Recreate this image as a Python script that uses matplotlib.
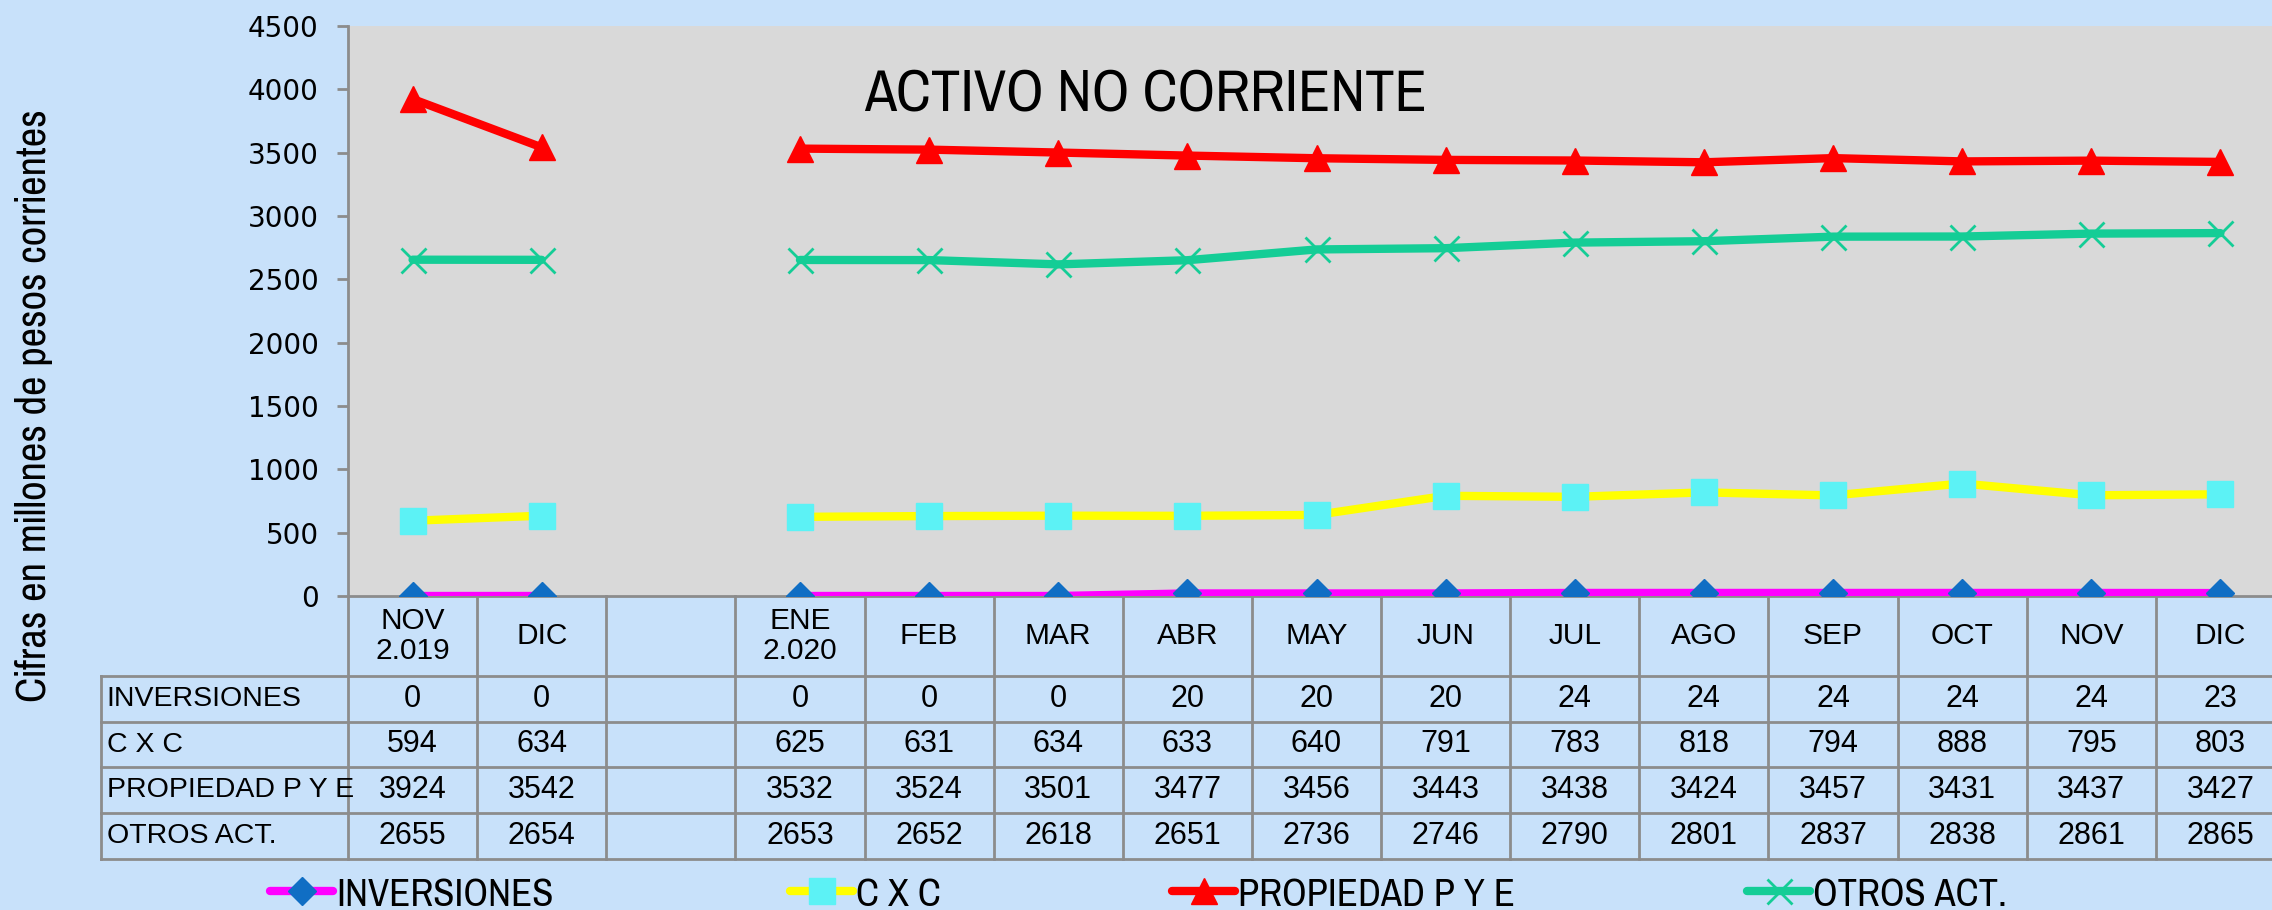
import matplotlib
matplotlib.use('Agg')
import matplotlib.pyplot as plt
import matplotlib.transforms as mtransforms
from matplotlib import font_manager
from matplotlib.lines import Line2D
import numpy as np

# datos (millones de pesos corrientes)
meses = ['NOV\n2.019', 'DIC', '', 'ENE\n2.020', 'FEB', 'MAR', 'ABR', 'MAY',
         'JUN', 'JUL', 'AGO', 'SEP', 'OCT', 'NOV', 'DIC']
nan = np.nan
inversiones = [0, 0, nan, 0, 0, 0, 20, 20, 20, 24, 24, 24, 24, 24, 23]
cxc = [594, 634, nan, 625, 631, 634, 633, 640, 791, 783, 818, 794, 888, 795, 803]
propiedad = [3924, 3542, nan, 3532, 3524, 3501, 3477, 3456, 3443, 3438, 3424, 3457, 3431, 3437, 3427]
otros = [2655, 2654, nan, 2653, 2652, 2618, 2651, 2736, 2746, 2790, 2801, 2837, 2838, 2861, 2865]
nombres = ['INVERSIONES', 'C X C', 'PROPIEDAD P Y E', 'OTROS ACT.']
yticks = [0, 500, 1000, 1500, 2000, 2500, 3000, 3500, 4000, 4500]

# fuentes: Arial -> Liberation Sans, Arial Narrow -> lo que haya
disponibles = {f.name for f in font_manager.fontManager.ttflist}


def elegir(cands):
    for c in cands:
        if c in disponibles:
            return c
    return 'DejaVu Sans'


arial = [elegir(['Liberation Sans', 'Arimo']), 'DejaVu Sans']
narrow = [elegir(['Liberation Sans Narrow', 'Arial Narrow', 'Pragati Narrow', 'Archivo Narrow',
                  'PT Sans Narrow', 'Roboto Condensed', 'IBM Plex Sans Condensed']), 'DejaVu Sans']

# estilos
fondo = '#C8E1FA'
gris = '#D9D9D9'
linea_tabla = '#8C8C8C'
estilos = [
    dict(color='#FF00FF', marker='D', ms=14.5, mfc='#106EC4', mec='#106EC4'),
    dict(color='#FFFF00', marker='s', ms=19, mfc='#5CF2F5', mec='#5CF2F5'),
    dict(color='#FF0000', marker='^', ms=18.5, mfc='#FF0000', mec='#FF0000'),
    dict(color='#14CD96', marker='x', ms=18, mfc='#14CD96', mec='#14CD96', mew=2),
]

W, H = 2272, 910
fig = plt.figure(figsize=(W / 100, H / 100), dpi=100, facecolor=fondo)
ax = fig.add_axes([348 / W, (H - 596) / H, (2285 - 348) / W, (596 - 26) / H])
ax.set_facecolor(gris)

x = np.arange(len(meses))
for serie, est in zip([inversiones, cxc, propiedad, otros], estilos):
    ax.plot(x, serie, lw=6, solid_capstyle='round', zorder=3, **est)

ax.set_xlim(-0.5, len(meses) - 0.5)
ax.set_ylim(0, 4500)
ax.set_yticks(yticks)
ax.set_xticks([])
ax.tick_params(axis='y', length=8, width=2, color=linea_tabla, pad=13, labelsize=20)
for s in ['top', 'right']:
    ax.spines[s].set_visible(False)
for s in ['left', 'bottom']:
    ax.spines[s].set_color(linea_tabla)
    ax.spines[s].set_linewidth(2)


# tabla de datos debajo del eje
def ay(p):
    return (596 - p) / 570.0


trans = mtransforms.blended_transform_factory(ax.transData, ax.transAxes)
filas = [676, 722, 767, 813, 859]
xl = (101 - 348) / 1937.0
kw = dict(color=linea_tabla, lw=2, clip_on=False, zorder=1)
for i in range(len(meses) + 1):
    ax.plot([i - 0.5, i - 0.5], [0, ay(859)], transform=trans, **kw)
ax.plot([xl, xl], [ay(676), ay(859)], transform=ax.transAxes, **kw)
for f in filas:
    ax.plot([xl, 1.0], [ay(f), ay(f)], transform=ax.transAxes, **kw)

for i, m in enumerate(meses):
    ax.text(i, ay(636), m, transform=trans, ha='center', va='center',
            fontsize=21.5, family=arial, linespacing=1.12)

for r, (nombre, serie) in enumerate(zip(nombres, [inversiones, cxc, propiedad, otros])):
    yc = ay((filas[r] + filas[r + 1]) / 2)
    ax.text(xl + 0.003, yc, nombre, transform=ax.transAxes, ha='left', va='center',
            fontsize=20.5, family=arial)
    for i, v in enumerate(serie):
        if not np.isnan(v):
            ax.text(i, yc, '%d' % v, transform=trans, ha='center', va='center',
                    fontsize=22, family=arial)


# ajusta el tamaño de letra a un largo en pixeles
def ajustar(txt, largo, vertical=False):
    fig.canvas.draw()
    bb = txt.get_window_extent()
    actual = bb.height if vertical else bb.width
    txt.set_fontsize(txt.get_fontsize() * largo / actual)
    return txt.get_fontsize()


titulo = fig.text(1146 / W, (H - 94) / H, 'ACTIVO NO CORRIENTE', ha='center', va='center',
                  fontsize=40, family=narrow)
ajustar(titulo, 562)
ylab = fig.text(34 / W, (H - 406) / H, 'Cifras en millones de pesos corrientes', rotation=90,
                ha='center', va='center', fontsize=28, family=narrow)
ajustar(ylab, 594, vertical=True)

# leyenda
prueba = fig.text(0, 0, 'INVERSIONES', fontsize=29, family=narrow)
tam_ley = ajustar(prueba, 217)
prueba.remove()
pos_leyenda = [270, 790, 1172, 1747]
for nombre, est, px in zip(nombres, estilos, pos_leyenda):
    h = Line2D([], [], lw=6, solid_capstyle='round', **est)
    fig.legend([h], [nombre], loc='center left', bbox_to_anchor=(px / W, 0.0165),
               frameon=False, borderpad=0, borderaxespad=0, handlelength=1.5,
               handletextpad=0.08, prop=dict(family=narrow, size=tam_ley))

fig.savefig('out.png', dpi=100, facecolor=fondo)
